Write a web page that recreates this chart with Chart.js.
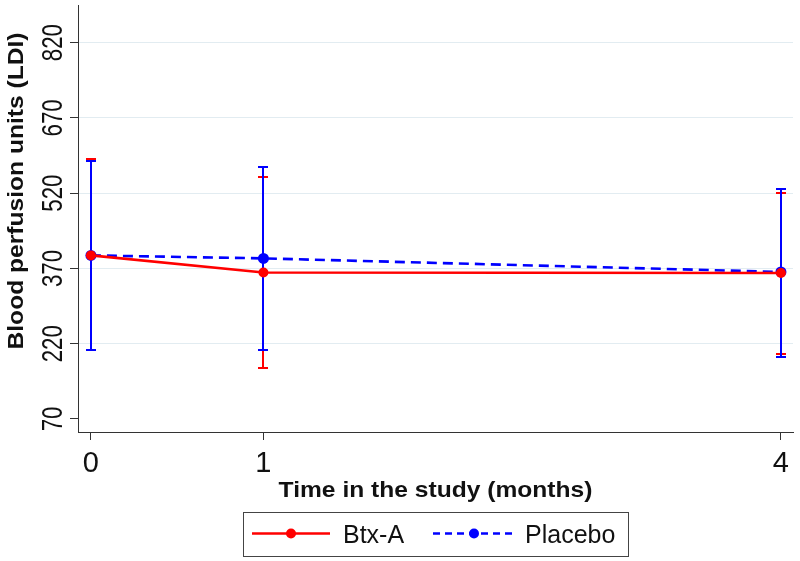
<!DOCTYPE html>
<html>
<head>
<meta charset="utf-8">
<title>Blood perfusion units</title>
<script src="https://cdn.jsdelivr.net/npm/chart.js@4"></script>
<style>
    html, body { margin: 0; padding: 0; background: #fff; }
    canvas { display: block; }
</style>
</head>
<body>
<canvas id="perfusionChart" width="800" height="561"></canvas>
<script>
// Data
const months = [0, 1, 4];
const yTicks = [70, 220, 370, 520, 670, 820];

const btxMean = [396, 362, 361];
const btxLow = [208, 171, 199];
const btxHigh = [589, 553, 520];

const placeboMean = [396, 390, 363];
const placeboLow = [207, 207, 194];
const placeboHigh = [585, 572, 529];

const RED = 'rgb(255, 0, 0)';
const BLUE = 'rgb(0, 0, 255)';
const AXIS = '#333333';
const GRID = 'rgb(226, 236, 241)';
const TEXT = '#111111';

// rotate / squash text the way the original picture does
function drawText(ctx, text, x, y, opts) {
    ctx.save();
    ctx.translate(x, y);
    ctx.rotate(opts.rot || 0);
    ctx.scale(opts.sAlong || 1, opts.sAcross || 1);
    ctx.font = opts.font;
    ctx.fillStyle = TEXT;
    ctx.textAlign = opts.align || 'center';
    ctx.textBaseline = opts.baseline || 'alphabetic';
    ctx.fillText(text, 0, 0);
    ctx.restore();
}

const errorBars = {
    id: 'errorBars',
    beforeDatasetsDraw(chart) {
        const ctx = chart.ctx;
        const xs = chart.scales.x;
        const ys = chart.scales.y;
        const sets = [
            { low: btxLow, high: btxHigh, color: RED },
            { low: placeboLow, high: placeboHigh, color: BLUE }
        ];
        ctx.save();
        sets.forEach(s => {
            ctx.strokeStyle = s.color;
            ctx.lineWidth = 2;
            months.forEach((m, i) => {
                const px = Math.round(xs.getPixelForValue(m));
                const yl = Math.round(ys.getPixelForValue(s.low[i]));
                const yh = Math.round(ys.getPixelForValue(s.high[i]));
                ctx.beginPath();
                ctx.moveTo(px, yl);
                ctx.lineTo(px, yh);
                ctx.moveTo(px - 5, yl);
                ctx.lineTo(px + 5, yl);
                ctx.moveTo(px - 5, yh);
                ctx.lineTo(px + 5, yh);
                ctx.stroke();
            });
        });
        ctx.restore();
    }
};

const labelsAndLegend = {
    id: 'labelsAndLegend',
    afterDraw(chart) {
        const ctx = chart.ctx;
        const xs = chart.scales.x;
        const ys = chart.scales.y;
        const area = chart.chartArea;

        // y tick labels, vertical
        ys.ticks.forEach(t => {
            drawText(ctx, String(t.value), 62, ys.getPixelForValue(t.value), {
                font: '29px "Liberation Sans", Arial, sans-serif',
                rot: -Math.PI / 2, sAlong: 0.77, sAcross: 1
            });
        });

        // x tick labels
        xs.ticks.forEach(t => {
            drawText(ctx, String(t.value), xs.getPixelForValue(t.value), 472, {
                font: '29px "Liberation Sans", Arial, sans-serif'
            });
        });

        // axis titles
        drawText(ctx, 'Time in the study (months)', (area.left + area.right) / 2, 497, {
            font: 'bold 24.6px "Liberation Sans", Arial, sans-serif',
            sAcross: 0.87
        });
        drawText(ctx, 'Blood perfusion units (LDI)', 23, 191, {
            font: 'bold 24.6px "Liberation Sans", Arial, sans-serif',
            rot: -Math.PI / 2, sAcross: 0.87
        });

        // legend box
        ctx.save();
        ctx.strokeStyle = '#444';
        ctx.lineWidth = 1;
        ctx.strokeRect(243.5, 512.5, 385, 44);

        const items = [
            { ds: chart.data.datasets[0], x0: 252, x1: 330, dot: 291, tx: 343 },
            { ds: chart.data.datasets[1], x0: 433, x1: 513, dot: 474, tx: 525 }
        ];
        items.forEach(it => {
            ctx.strokeStyle = it.ds.borderColor;
            ctx.lineWidth = it.ds.borderWidth;
            ctx.setLineDash(it.ds.borderDash ? [7, 5] : []);
            ctx.beginPath();
            ctx.moveTo(it.x0, 533.5);
            ctx.lineTo(it.x1, 533.5);
            ctx.stroke();
            ctx.setLineDash([]);
            ctx.fillStyle = it.ds.backgroundColor;
            ctx.beginPath();
            ctx.arc(it.dot, 533.5, 5, 0, Math.PI * 2);
            ctx.fill();
            drawText(ctx, it.ds.label, it.tx, 543, {
                font: '25px "Liberation Sans", Arial, sans-serif',
                align: 'left'
            });
        });
        ctx.restore();
    }
};

const ctx = document.getElementById('perfusionChart').getContext('2d');

const perfusionChart = new Chart(ctx, {
    type: 'line',
    data: {
        datasets: [
            {
                label: 'Btx-A',
                data: months.map((m, i) => ({ x: m, y: btxMean[i] })),
                borderColor: RED,
                backgroundColor: RED,
                borderWidth: 2.6,
                pointRadius: 5,
                pointBorderWidth: 0,
                pointBackgroundColor: RED,
                tension: 0,
                fill: false
            },
            {
                label: 'Placebo',
                data: months.map((m, i) => ({ x: m, y: placeboMean[i] })),
                borderColor: BLUE,
                backgroundColor: BLUE,
                borderWidth: 2.6,
                borderDash: [10, 6],
                pointRadius: 5.5,
                pointBorderWidth: 0,
                pointBackgroundColor: BLUE,
                tension: 0,
                fill: false
            }
        ]
    },
    options: {
        responsive: false,
        animation: false,
        devicePixelRatio: 1,
        layout: { padding: { top: 5, right: 7, left: 0, bottom: 0 } },
        plugins: {
            legend: { display: false },
            tooltip: { enabled: false }
        },
        scales: {
            x: {
                type: 'linear',
                min: -0.075,
                max: 4.07,
                afterBuildTicks: s => { s.ticks = months.map(v => ({ value: v })); },
                afterFit: s => { s.height = 129; },
                ticks: { display: false },
                grid: { drawOnChartArea: false, tickLength: 8, tickColor: AXIS, tickWidth: 1 },
                border: { color: AXIS, width: 1 }
            },
            y: {
                type: 'linear',
                min: 44,
                max: 894,
                afterBuildTicks: s => { s.ticks = yTicks.map(v => ({ value: v })); },
                afterFit: s => { s.width = 78; },
                ticks: { display: false },
                grid: {
                    color: c => (c.tick && c.tick.value === 70 ? 'rgba(0,0,0,0)' : GRID),
                    lineWidth: 1,
                    tickLength: 8,
                    tickColor: AXIS,
                    tickWidth: 1
                },
                border: { color: AXIS, width: 1 }
            }
        }
    },
    plugins: [errorBars, labelsAndLegend]
});
</script>
</body>
</html>
